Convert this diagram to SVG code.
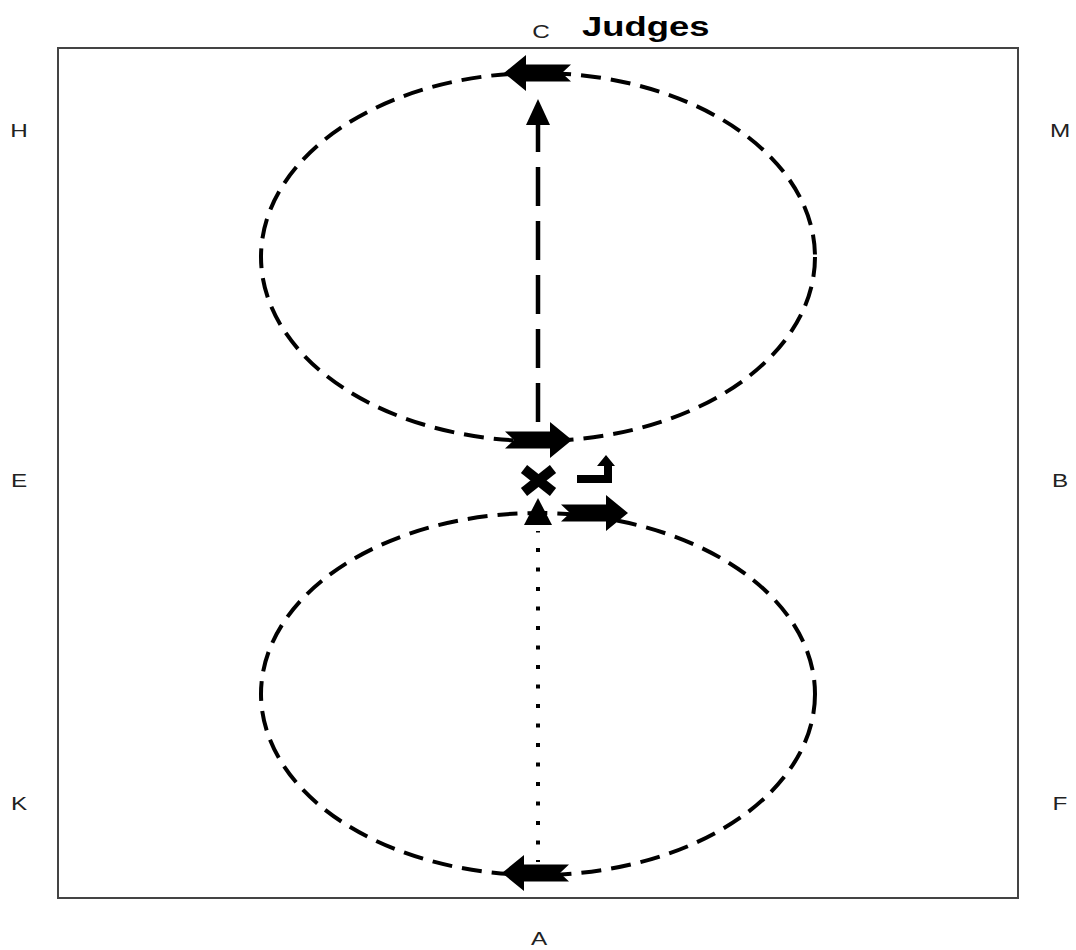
<svg xmlns="http://www.w3.org/2000/svg" xmlns:xlink="http://www.w3.org/1999/xlink" width="1076" height="950" viewBox="0 0 1076 950">
<style>
.lbl{font-family:"Liberation Sans",Arial,sans-serif;font-size:18px;fill:#222;text-anchor:middle}
.ttl{font-family:"Liberation Sans",Arial,sans-serif;font-size:28px;font-weight:bold;fill:#000}
.ell{fill:none;stroke:#000;stroke-width:4;stroke-dasharray:20 10}
.ink{fill:#000}
</style>
<defs>
<path id="chev" d="M0,0 L-22,-18 L-22,-8.5 L-67,-8.5 L-58,0 L-67,8.5 L-22,8.5 L-22,18 Z"/>
</defs>
<rect id="arena" x="58" y="48" width="960" height="850" fill="#fff" stroke="#444" stroke-width="2"/>
<g id="labels">
<text class="lbl" transform="translate(541,38) scale(1.35,1)">C</text>
<text class="ttl" transform="translate(582,36) scale(1.3,1)">Judges</text>
<text class="lbl" transform="translate(539,945) scale(1.35,1)">A</text>
<text class="lbl" transform="translate(19,137) scale(1.35,1)">H</text>
<text class="lbl" transform="translate(1060,137) scale(1.35,1)">M</text>
<text class="lbl" transform="translate(19,487) scale(1.35,1)">E</text>
<text class="lbl" transform="translate(1060,487) scale(1.35,1)">B</text>
<text class="lbl" transform="translate(19,810) scale(1.35,1)">K</text>
<text class="lbl" transform="translate(1060,810) scale(1.35,1)">F</text>
</g>
<g id="circle-top"><ellipse class="ell" cx="538" cy="257" rx="277" ry="184"/></g>
<g id="circle-bottom"><ellipse class="ell" cx="538" cy="694" rx="277" ry="181"/></g>
<g id="connectors">
<line x1="538" y1="122" x2="538" y2="433" stroke="#000" stroke-width="4.5" stroke-dasharray="39 15" stroke-dashoffset="9"/>
<polygon class="ink" points="538,99 550,125 526,125"/>
<line x1="538" y1="531" x2="538" y2="862" stroke="#000" stroke-width="4" stroke-dasharray="4 15.5" stroke-dashoffset="2.5"/>
<polygon class="ink" points="538,498 552,525 524,525"/>
</g>
<g id="arrow-top"><use xlink:href="#chev" class="ink" transform="translate(504,73) rotate(180)"/></g>
<g id="arrow-mid"><use xlink:href="#chev" class="ink" transform="translate(572,440)"/></g>
<g id="arrow-low"><use xlink:href="#chev" class="ink" transform="translate(628,513)"/></g>
<g id="arrow-bottom"><use xlink:href="#chev" class="ink" transform="translate(502,873) rotate(180)"/></g>
<g id="halt-x">
<line x1="524" y1="469" x2="553" y2="492" stroke="#000" stroke-width="10"/>
<line x1="553" y1="469" x2="524" y2="492" stroke="#000" stroke-width="10"/>
</g>
<g id="turn"><path class="ink" d="M577,475 H604 V466 H597 L606,455 L615,466 H612 V483 H577 Z"/></g>
</svg>
